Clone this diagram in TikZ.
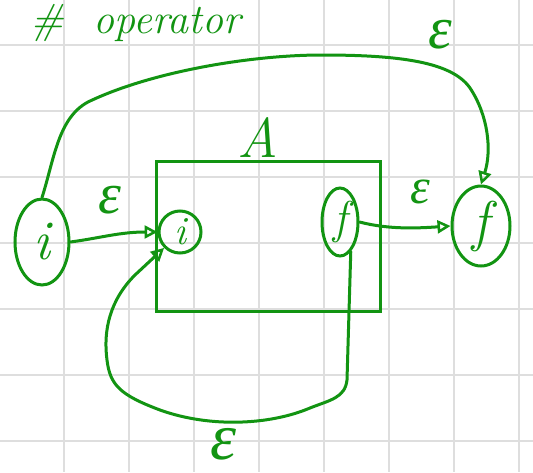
\documentclass[tikz,border=0pt]{standalone}
\usepackage{fontspec}
\setmainfont{Latin Modern Roman}
\newfontfamily\gk{Liberation Serif}
\usetikzlibrary{arrows.meta,shapes.geometric}
\definecolor{pen}{RGB}{18,148,18}
\definecolor{gridc}{RGB}{222,222,222}
\begin{document}
\begin{tikzpicture}[x=1pt,y=-1pt,
  ln/.style={pen,line width=3pt,line cap=round,line join=round},
  ell/.style={ellipse,draw=pen,line width=3pt,inner sep=0pt,text=pen,font=\fontsize{#1}{#1}\selectfont\itshape},
  tip/.style={-{Triangle[open,length=13pt,width=13pt,line width=2.5pt]}},
  lab/.style={text=pen,inner sep=0pt},
  eps/.style={lab,font=\gk\itshape\fontsize{#1}{#1}\selectfont}]
\useasboundingbox (0,0) rectangle (533,472);
\fill[white] (0,0) rectangle (533,472);
\foreach \x in {64,129,194,259,324,389,454,519} \draw[gridc,line width=1.3pt] (\x,0) -- (\x,472);
\foreach \y in {45,111,177,243,309,375,441} \draw[gridc,line width=1.3pt] (0,\y) -- (533,\y);
% title
\node[lab,anchor=base west,font=\fontsize{42}{42}\selectfont\itshape] (title) at (30,33) {\#\hspace{30pt}operator};
% box A
\node[draw=pen,line width=3pt,minimum width=224pt,minimum height=150pt] (A) at (268,236) {};
\node[lab,anchor=south,font=\fontsize{56}{56}\selectfont\itshape] (Alab) at (258,158) {A};
% states
\node[ell=56,minimum width=54pt,minimum height=86pt] (i0) at (42,242) {i};
\node[ell=40,minimum width=42pt,minimum height=42pt] (i1) at (180,232) {i};
\node[ell=46,minimum width=36pt,minimum height=68pt] (f0) at (340,222) {f};
\node[ell=56,minimum width=58pt,minimum height=80pt] (f1) at (481,226) {f};
% arrows
\draw[ln,tip] (i0.east) .. controls (100,238) and (120,232) .. (i1.west);
\node[eps=58] (e1) at (110,200) {ε};
\draw[ln,tip] (f0.east) .. controls (390,230) and (420,228) .. (f1.west);
\node[eps=50] (e2) at (420,192) {ε};
\draw[ln,tip] (i0.north) .. controls (54,160) and (58,118) .. (88,102)
  .. controls (150,72) and (250,55) .. (322,55)
  .. controls (400,55) and (452,62) .. (470,88)
  .. controls (488,115) and (492,150) .. (f1.north);
\node[eps=60] (e3) at (440,35) {ε};
\draw[ln,tip] (f0.-70) -- (347,380)
  .. controls (345,398) and (330,400) .. (310,408)
  .. controls (270,425) and (210,428) .. (160,410)
  .. controls (120,395) and (110,385) .. (107,360)
  .. controls (103,330) and (110,300) .. (135,275)
  -- (i1.south west);
\node[eps=66] (e4) at (224,444) {ε};
\end{tikzpicture}
\end{document}
